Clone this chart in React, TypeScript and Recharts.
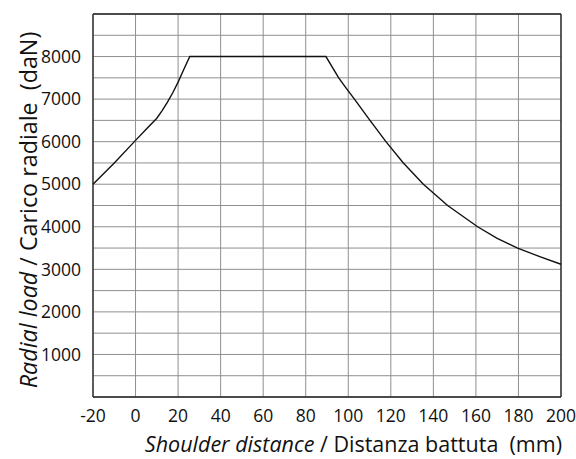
import React from 'react';
import { LineChart, Line, XAxis, YAxis, CartesianGrid, ReferenceLine } from 'recharts';

const distances = [-20, -10, 0, 5, 10, 12.5, 15, 17.5, 20, 22.5, 25.5, 89.5, 95.5, 99, 102.9, 110.2, 117.7, 125.9, 135.3, 146.7, 160.8, 170, 179.6, 190, 200];
const loads = [5000, 5500, 6030, 6290, 6550, 6730, 6930, 7150, 7400, 7680, 8000, 8000, 7500, 7260, 7000, 6500, 6000, 5500, 5000, 4500, 4000, 3730, 3500, 3300, 3120];
const xTicks = [-20, 0, 20, 40, 60, 80, 100, 120, 140, 160, 180, 200];
const yTicks = [0, 500, 1000, 1500, 2000, 2500, 3000, 3500, 4000, 4500, 5000, 5500, 6000, 6500, 7000, 7500, 8000, 8500, 9000];
const yLabelled = [1000, 2000, 3000, 4000, 5000, 6000, 7000, 8000];

const data = distances.map((d, i) => ({ d, load: loads[i] }));

const FONT = '"Open Sans", "Noto Sans", sans-serif';

export default function App() {
  return (
    <div style={{ position: 'absolute', left: 0, top: 0, background: '#fff' }}>
      <LineChart width={576} height={459} data={data} margin={{ top: 14, right: 15, bottom: 0, left: 0 }}>
        <CartesianGrid stroke="#8f8f8f" strokeWidth={1} horizontalValues={yTicks} verticalValues={xTicks} />
        <XAxis
          dataKey="d"
          type="number"
          domain={[-20, 200]}
          ticks={xTicks}
          interval={0}
          height={62}
          tickLine={false}
          tickSize={0}
          tickMargin={13}
          axisLine={{ stroke: '#222', strokeWidth: 1.3 }}
          tick={{ fill: '#111', fontSize: 17.5, fontFamily: FONT }}
          label={{
            position: 'insideBottom',
            content: () => (
              <text x={562} y={452} textAnchor="end" fontFamily={FONT} fontSize={21.5} fill="#111">
                <tspan fontStyle="italic">Shoulder distance</tspan>
                <tspan>{' / Distanza battuta\u00a0\u00a0(mm)'}</tspan>
              </text>
            ),
          }}
        />
        <YAxis
          type="number"
          domain={[0, 9000]}
          ticks={yTicks}
          interval={0}
          width={93}
          tickLine={false}
          tickSize={0}
          tickMargin={12}
          axisLine={{ stroke: '#222', strokeWidth: 1.3 }}
          tick={{ fill: '#111', fontSize: 17.5, fontFamily: FONT }}
          tickFormatter={(v: number) => (yLabelled.includes(v) ? String(v) : '')}
          label={{
            position: 'insideLeft',
            content: () => (
              <text
                x={0}
                y={0}
                transform="translate(37,210) rotate(-90)"
                textAnchor="middle"
                fontFamily={FONT}
                fontSize={23.3}
                fill="#111"
              >
                <tspan fontStyle="italic">Radial load</tspan>
                <tspan>{' / Carico radiale\u00a0\u00a0(daN)'}</tspan>
              </text>
            ),
          }}
        />
        <ReferenceLine y={9000} stroke="#222" strokeWidth={1.3} />
        <ReferenceLine x={200} stroke="#222" strokeWidth={1.3} />
        <Line
          type="linear"
          dataKey="load"
          stroke="#111"
          strokeWidth={1.4}
          dot={false}
          isAnimationActive={false}
        />
      </LineChart>
    </div>
  );
}
